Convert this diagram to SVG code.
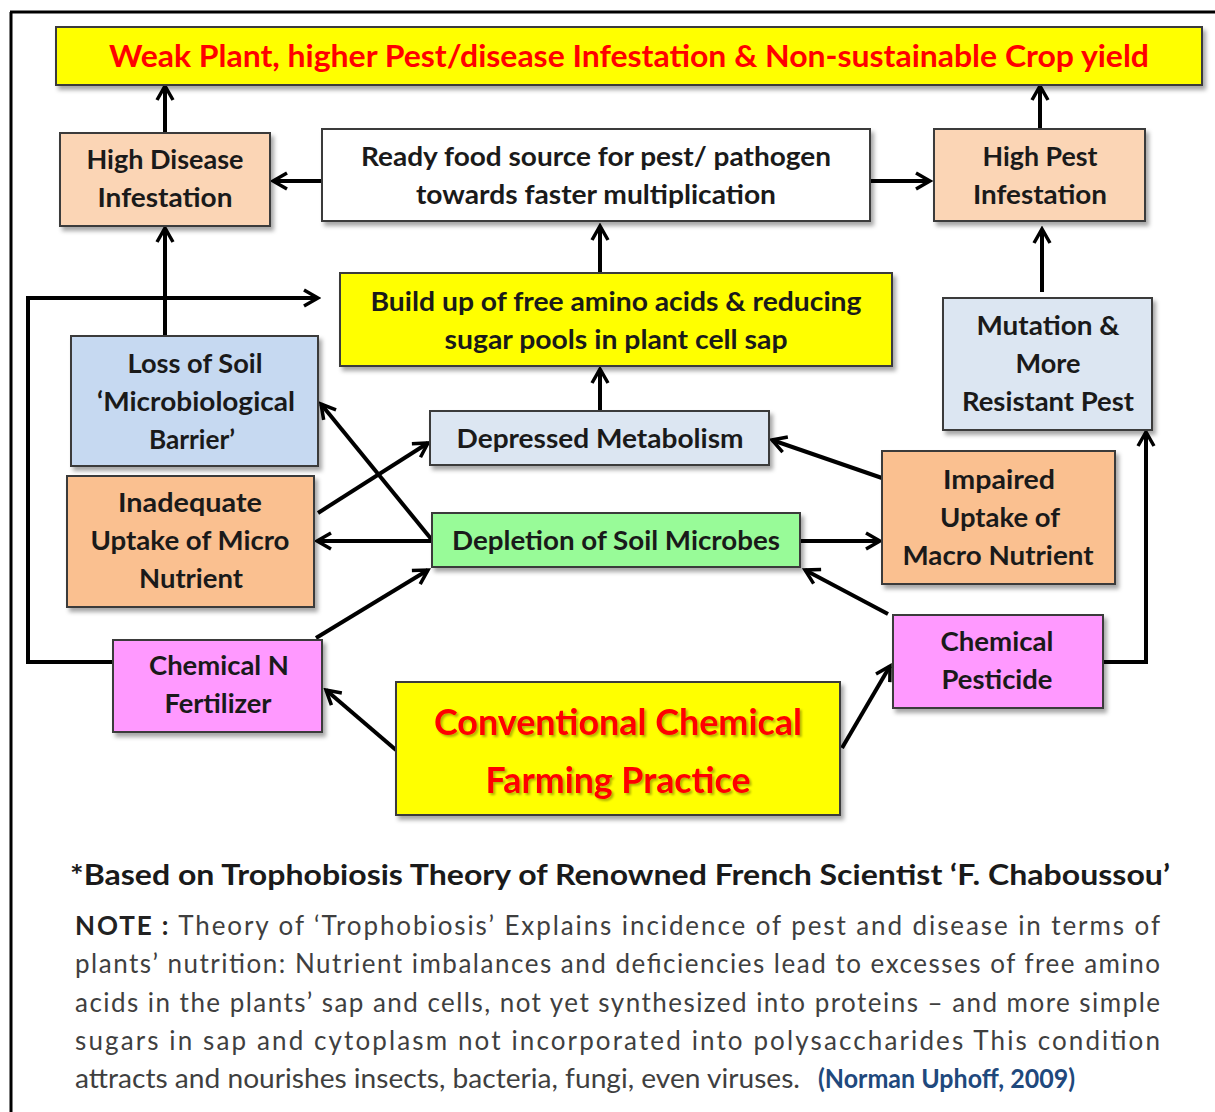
<svg xmlns="http://www.w3.org/2000/svg" width="1215" height="1112" viewBox="0 0 1215 1112">
<defs>
<filter id="sh" x="-10%" y="-10%" width="120%" height="130%">
<feDropShadow dx="3" dy="4" stdDeviation="2" flood-color="#000" flood-opacity="0.35"/>
</filter>
<filter id="tsh" x="-5%" y="-10%" width="110%" height="130%">
<feDropShadow dx="2" dy="2" stdDeviation="1" flood-color="#000" flood-opacity="0.3"/>
</filter>
<marker id="ah" markerUnits="userSpaceOnUse" viewBox="0 0 20 20" markerWidth="20" markerHeight="20" refX="17" refY="10" orient="auto">
<path d="M3,2 L17,10 L3,18" fill="none" stroke="#000" stroke-width="3.5"/>
</marker>
</defs>
<style>
.box{stroke:#3a3a3a;stroke-width:2;filter:url(#sh)}
.t{font-family:Lato,"Open Sans","Liberation Sans",sans-serif;font-size:26px;font-weight:700;fill:#1a1a1a;text-anchor:middle}
.red{fill:#ff0000;font-weight:700}
.c line,.c path{stroke:#000;stroke-width:4;fill:none;marker-end:url(#ah)}
.n{font-family:Lato,"Open Sans","Liberation Sans",sans-serif;font-size:26px;fill:#3f3f3f}
</style>
<rect width="1215" height="1112" fill="#fff"/>
<path d="M10,12 H1215 M11,12 V1112" stroke="#000" stroke-width="3" fill="none"/>

<g class="c" id="connectors">
<line x1="165" y1="133" x2="165" y2="86"/>
<line x1="1040" y1="129" x2="1040" y2="86"/>
<line x1="322" y1="181" x2="273" y2="181"/>
<line x1="870" y1="181" x2="930" y2="181"/>
<line x1="600" y1="273" x2="600" y2="226"/>
<line x1="600" y1="411" x2="600" y2="369"/>
<line x1="1042" y1="292" x2="1042" y2="229"/>
<line x1="165" y1="336" x2="165" y2="228"/>
<path d="M113,662 H28 V298 H318"/>
<path d="M1103,662 H1146 V432"/>
<line x1="432" y1="540" x2="321" y2="404"/>
<line x1="432" y1="541" x2="317" y2="541"/>
<line x1="318" y1="513" x2="428" y2="443"/>
<line x1="316" y1="638" x2="428" y2="570"/>
<line x1="396" y1="750" x2="326" y2="690"/>
<line x1="842" y1="748" x2="890" y2="666"/>
<line x1="888" y1="614" x2="805" y2="570"/>
<line x1="800" y1="541" x2="880" y2="541"/>
<line x1="882" y1="478" x2="772" y2="440"/>
</g>

<g id="n-top"><rect class="box" x="56" y="27" width="1146" height="58" fill="#ffff00"/>
<text class="t red" x="629" y="67" style="font-size:30px" textLength="1040" lengthAdjust="spacingAndGlyphs">Weak Plant, higher Pest/disease Infestation &amp; Non-sustainable Crop yield</text></g>

<g id="n-disease"><rect class="box" x="60" y="133" width="210" height="93" fill="#fbd5b5"/>
<text class="t" x="165" y="169" textLength="157" lengthAdjust="spacingAndGlyphs">High Disease</text>
<text class="t" x="165" y="207" textLength="135" lengthAdjust="spacingAndGlyphs">Infestation</text></g>

<g id="n-food"><rect class="box" x="322" y="129" width="548" height="92" fill="#ffffff"/>
<text class="t" x="596" y="166" textLength="470" lengthAdjust="spacingAndGlyphs">Ready food source for pest/ pathogen</text>
<text class="t" x="596" y="204" textLength="360" lengthAdjust="spacingAndGlyphs">towards faster multiplication</text></g>

<g id="n-pest"><rect class="box" x="934" y="129" width="211" height="92" fill="#fbd5b5"/>
<text class="t" x="1040" y="166" textLength="115" lengthAdjust="spacingAndGlyphs">High Pest</text>
<text class="t" x="1040" y="204" textLength="134" lengthAdjust="spacingAndGlyphs">Infestation</text></g>

<g id="n-buildup"><rect class="box" x="340" y="273" width="552" height="93" fill="#ffff00"/>
<text class="t" x="616" y="311" textLength="491" lengthAdjust="spacingAndGlyphs">Build up of free amino acids &amp; reducing</text>
<text class="t" x="616" y="349" textLength="343" lengthAdjust="spacingAndGlyphs">sugar pools in plant cell sap</text></g>

<g id="n-mutation"><rect class="box" x="943" y="298" width="209" height="132" fill="#dce6f2"/>
<text class="t" x="1048" y="335" textLength="143" lengthAdjust="spacingAndGlyphs">Mutation &amp;</text>
<text class="t" x="1048" y="373" textLength="65" lengthAdjust="spacingAndGlyphs">More</text>
<text class="t" x="1048" y="411" textLength="172" lengthAdjust="spacingAndGlyphs">Resistant Pest</text></g>

<g id="n-loss"><rect class="box" x="71" y="336" width="247" height="130" fill="#c6d9f1"/>
<text class="t" x="195" y="373" textLength="135" lengthAdjust="spacingAndGlyphs">Loss of Soil</text>
<text class="t" x="196" y="411" textLength="198" lengthAdjust="spacingAndGlyphs">‘Microbiological</text>
<text class="t" x="192" y="449" textLength="86" lengthAdjust="spacingAndGlyphs">Barrier’</text></g>

<g id="n-depressed"><rect class="box" x="430" y="411" width="339" height="54" fill="#dce6f2"/>
<text class="t" x="600" y="448" textLength="287" lengthAdjust="spacingAndGlyphs">Depressed Metabolism</text></g>

<g id="n-inadequate"><rect class="box" x="67" y="476" width="247" height="131" fill="#fac090"/>
<text class="t" x="190" y="512" textLength="144" lengthAdjust="spacingAndGlyphs">Inadequate</text>
<text class="t" x="190" y="550" textLength="199" lengthAdjust="spacingAndGlyphs">Uptake of Micro</text>
<text class="t" x="191" y="588" textLength="104" lengthAdjust="spacingAndGlyphs">Nutrient</text></g>

<g id="n-depletion"><rect class="box" x="432" y="513" width="368" height="54" fill="#98fb98"/>
<text class="t" x="616" y="550" textLength="328" lengthAdjust="spacingAndGlyphs">Depletion of Soil Microbes</text></g>

<g id="n-impaired"><rect class="box" x="882" y="451" width="233" height="133" fill="#fac090"/>
<text class="t" x="999" y="489" textLength="112" lengthAdjust="spacingAndGlyphs">Impaired</text>
<text class="t" x="1000" y="527" textLength="120" lengthAdjust="spacingAndGlyphs">Uptake of</text>
<text class="t" x="998" y="565" textLength="191" lengthAdjust="spacingAndGlyphs">Macro Nutrient</text></g>

<g id="n-fertilizer"><rect class="box" x="113" y="640" width="209" height="92" fill="#ff99ff"/>
<text class="t" x="219" y="675" textLength="140" lengthAdjust="spacingAndGlyphs">Chemical N</text>
<text class="t" x="218" y="713" textLength="107" lengthAdjust="spacingAndGlyphs">Fertilizer</text></g>

<g id="n-pesticide"><rect class="box" x="893" y="615" width="210" height="93" fill="#ff99ff"/>
<text class="t" x="997" y="651" textLength="113" lengthAdjust="spacingAndGlyphs">Chemical</text>
<text class="t" x="997" y="689" textLength="111" lengthAdjust="spacingAndGlyphs">Pesticide</text></g>

<g id="n-conventional"><rect class="box" x="396" y="682" width="444" height="133" fill="#ffff00"/>
<text class="t red" x="618" y="735" style="font-size:36px;filter:url(#tsh)" textLength="368" lengthAdjust="spacingAndGlyphs">Conventional Chemical</text>
<text class="t red" x="618" y="793" style="font-size:36px;filter:url(#tsh)" textLength="265" lengthAdjust="spacingAndGlyphs">Farming Practice</text></g>

<g id="notes">
<text class="t" x="70" y="885" style="font-size:28px;text-anchor:start;font-weight:700" textLength="1100" lengthAdjust="spacingAndGlyphs">*Based on Trophobiosis Theory of Renowned French Scientist ‘F. Chaboussou’</text>
<text class="n" x="75" y="935" textLength="1085" lengthAdjust="spacing"><tspan font-weight="700" fill="#222">NOTE :</tspan> Theory of ‘Trophobiosis’ Explains incidence of pest and disease in terms of</text>
<text class="n" x="75" y="973" textLength="1085" lengthAdjust="spacing">plants’ nutrition: Nutrient imbalances and deficiencies lead to excesses of free amino</text>
<text class="n" x="75" y="1012" textLength="1085" lengthAdjust="spacing">acids in the plants’ sap and cells, not yet synthesized into proteins – and more simple</text>
<text class="n" x="75" y="1050" textLength="1085" lengthAdjust="spacing">sugars in sap and cytoplasm not incorporated into polysaccharides This condition</text>
<text class="n" x="75" y="1088" textLength="725" lengthAdjust="spacingAndGlyphs">attracts and nourishes insects, bacteria, fungi, even viruses.</text>
<text class="n" x="818" y="1088" style="fill:#1f497d;font-weight:700" textLength="257" lengthAdjust="spacingAndGlyphs">(Norman Uphoff, 2009)</text>
</g>
</svg>
